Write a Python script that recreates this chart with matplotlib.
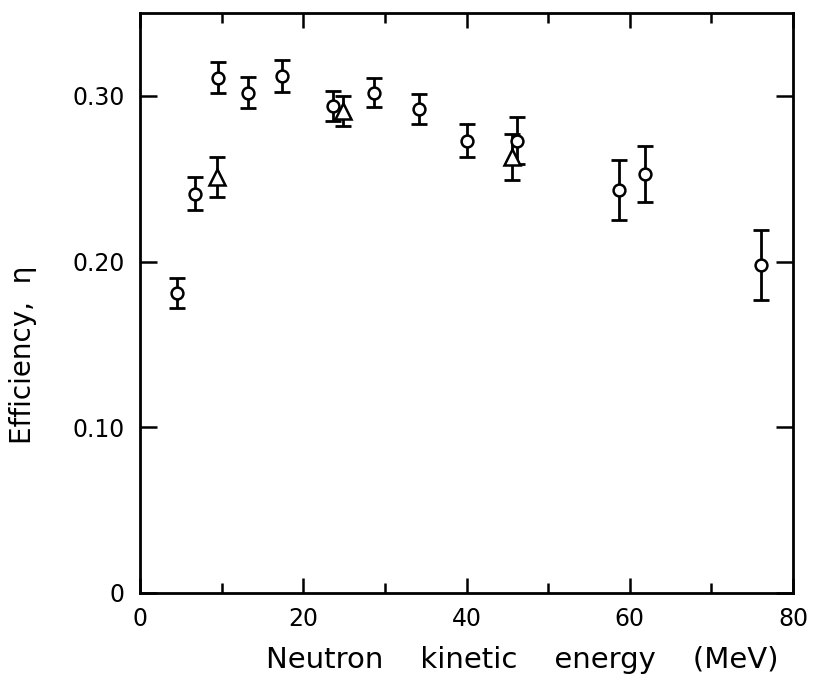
import matplotlib
matplotlib.use("Agg")
import matplotlib.pyplot as plt
from matplotlib.ticker import MultipleLocator, FixedLocator

# Detection efficiency vs neutron kinetic energy
circ_energy = [4.5, 6.7, 9.5, 13.2, 17.4, 23.7, 28.7, 34.2, 40.1, 46.2, 58.7, 61.9, 76.1]
circ_eff = [0.181, 0.241, 0.311, 0.302, 0.312, 0.294, 0.302, 0.292, 0.273, 0.273, 0.243, 0.253, 0.198]
circ_err = [0.009, 0.010, 0.0095, 0.0095, 0.0095, 0.009, 0.0085, 0.009, 0.010, 0.014, 0.018, 0.017, 0.021]

tri_energy = [9.4, 24.9, 45.6]
tri_eff = [0.251, 0.291, 0.263]
tri_err = [0.012, 0.009, 0.014]

x_ticks = [0, 20, 40, 60, 80]
x_ticklabels = ["0", "20", "40", "60", "80"]
y_ticks = [0, 0.10, 0.20, 0.30]
y_ticklabels = ["0", "0.10", "0.20", "0.30"]

fig = plt.figure(figsize=(8.13, 6.85), dpi=100)
ax = fig.add_axes([140 / 813, 92 / 685, 653 / 813, 580 / 685])

err_kw = dict(fmt="none", ecolor="black", elinewidth=2.0, capsize=5.5, capthick=2.0, zorder=2)
ax.errorbar(circ_energy, circ_eff, yerr=circ_err, **err_kw)
ax.errorbar(tri_energy, tri_eff, yerr=tri_err, **err_kw)
ax.plot(circ_energy, circ_eff, "o", ms=8.5, mfc="white", mec="black", mew=1.8, zorder=3, ls="none")
ax.plot(tri_energy, tri_eff, "^", ms=11.5, mfc="white", mec="black", mew=1.8, zorder=3, ls="none")

ax.set_xlim(0, 80)
ax.set_ylim(0, 0.35)
ax.xaxis.set_major_locator(FixedLocator(x_ticks))
ax.set_xticklabels(x_ticklabels)
ax.xaxis.set_minor_locator(MultipleLocator(10))
ax.yaxis.set_major_locator(FixedLocator(y_ticks))
ax.set_yticklabels(y_ticklabels)

for s in ax.spines.values():
    s.set_linewidth(2.0)

ax.tick_params(axis="x", which="major", direction="in", length=11, width=1.8,
               top=True, bottom=True, labelsize=17, pad=10)
ax.tick_params(axis="x", which="minor", direction="in", length=7.5, width=1.8,
               top=True, bottom=True)
ax.tick_params(axis="y", which="major", direction="in", length=12.5, width=1.8,
               left=True, right=True, labelsize=17, pad=11)

ax.set_xlabel("Neutron    kinetic    energy    (MeV)", fontsize=21)
ax.xaxis.set_label_coords(0.585, -0.092)
ax.set_ylabel("Efficiency,  η", fontsize=20)
ax.yaxis.set_label_coords(-0.158, 0.41)

fig.savefig("out.png", dpi=100)
